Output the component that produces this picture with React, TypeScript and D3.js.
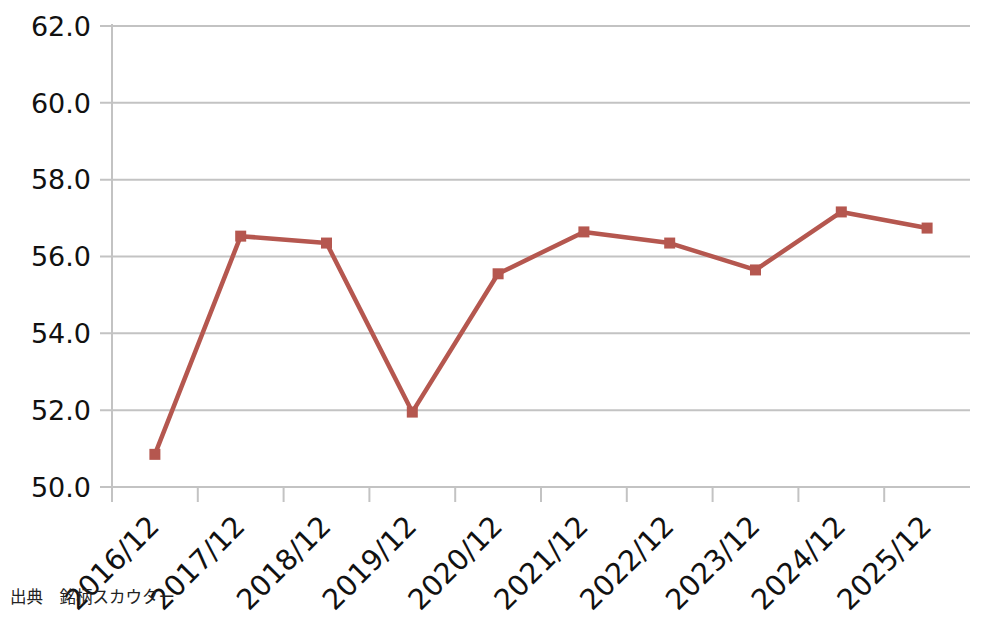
import React from "react";
import * as d3 from "d3";

const categories = ["2016/12", "2017/12", "2018/12", "2019/12", "2020/12", "2021/12", "2022/12", "2023/12", "2024/12", "2025/12"];
const values = [50.85, 56.53, 56.35, 51.95, 55.55, 56.64, 56.35, 55.65, 57.16, 56.74];
const yTicks = [50, 52, 54, 56, 58, 60, 62];
const sourceText = "出典　銘柄スカウター";

const W = 1000;
const H = 618;
const left = 112;
const right = 970;
const top = 26;
const bottom = 487;
const lineColor = "#b5574f";
const gridColor = "#c3c3c3";
const font = "'DejaVu Sans', sans-serif";

export default function App() {
  const x = d3.scaleBand<string>().domain(categories).range([left, right]);
  const y = d3.scaleLinear().domain([50, 62]).range([bottom, top]);
  const cx = (c: string) => (x(c) ?? 0) + x.bandwidth() / 2;
  const line = d3
    .line<number>()
    .x((_, i) => cx(categories[i]))
    .y((d) => y(d));

  return (
    <svg
      width={W}
      height={H}
      style={{ position: "absolute", left: 0, top: 0, background: "#fff" }}
    >
      {yTicks.map((t) => (
        <g key={t}>
          <line x1={100} x2={right} y1={y(t)} y2={y(t)} stroke={gridColor} strokeWidth={2} />
          <text
            x={91}
            y={y(t)}
            dy="0.36em"
            textAnchor="end"
            fontFamily={font}
            fontSize={27}
            fill="#111"
          >
            {t.toFixed(1)}
          </text>
        </g>
      ))}
      <line x1={left} x2={left} y1={top - 2} y2={bottom + 15} stroke={gridColor} strokeWidth={2} />
      {categories.slice(1).map((c) => (
        <line
          key={c}
          x1={x(c)}
          x2={x(c)}
          y1={bottom}
          y2={bottom + 15}
          stroke={gridColor}
          strokeWidth={2}
        />
      ))}
      {categories.map((c) => (
        <text
          key={c}
          transform={`translate(${cx(c) + 6},${bottom + 41}) rotate(-45)`}
          textAnchor="end"
          fontFamily={font}
          fontSize={28.5}
          fill="#111"
        >
          {c}
        </text>
      ))}
      <path d={line(values) ?? ""} fill="none" stroke={lineColor} strokeWidth={4.5} strokeLinejoin="round" />
      {values.map((v, i) => (
        <rect
          key={i}
          x={cx(categories[i]) - 5.5}
          y={y(v) - 5.5}
          width={11}
          height={11}
          fill={lineColor}
        />
      ))}
      <text
        x={10}
        y={603}
        fontFamily="'Noto Sans CJK JP', sans-serif"
        fontSize={16.5}
        fill="#222"
      >
        {sourceText}
      </text>
    </svg>
  );
}
